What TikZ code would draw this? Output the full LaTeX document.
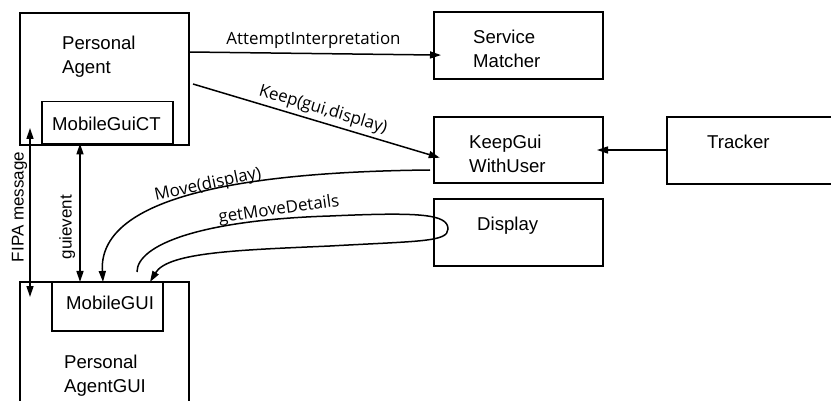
\documentclass[tikz,border=0pt]{standalone}
\usepackage{fontspec}
\setmainfont{Liberation Sans}
\newfontfamily\lblfont{Open Sans}
\usetikzlibrary{arrows.meta,calc}
\tikzset{
  box/.style={draw, line width=1.5pt, inner sep=0pt, outer sep=0pt, anchor=north west},
  thickbox/.style={box, line width=2.2pt},
  btxt/.style={inner sep=0pt, anchor=north west, align=left, font=\fontsize{18.6}{23.5}\selectfont},
  lbl/.style={inner sep=0pt, font=\lblfont\fontsize{16.9}{20}\selectfont},
  vlbl/.style={inner sep=0pt, anchor=base, rotate=90, font=\fontsize{17}{20}\selectfont},
  conn/.style={line width=1.5pt, -{Triangle[length=11pt,width=7pt]}},
  dconn/.style={line width=1.5pt, {Triangle[length=11pt,width=7pt]}-{Triangle[length=11pt,width=7pt]}}
}
\begin{document}
\begin{tikzpicture}[x=1pt,y=-1pt]
\useasboundingbox[fill=white] (0,0) rectangle (831,401);
% boxes
\node[thickbox, minimum width=169pt, minimum height=132pt] (pa) at (20,13) {};
\node[box, minimum width=131pt, minimum height=42pt] (ct) at (42,101.5) {};
\node[box, minimum width=169pt, minimum height=67pt] (sm) at (434,12) {};
\node[box, minimum width=169pt, minimum height=66pt] (kg) at (434,117) {};
\node[box, minimum width=180pt, minimum height=67pt] (tr) at (667,117) {};
\node[box, minimum width=169pt, minimum height=67pt] (dp) at (434,199) {};
\node[thickbox, minimum width=169pt, minimum height=130pt] (pg) at (20,282) {};
\node[box, fill=white, minimum width=111pt, minimum height=49pt] (mg) at (52,282) {};
% box texts
\node[btxt] (patxt) at (62,36) {Personal\\Agent};
\node[btxt] (cttxt) at (52,117) {MobileGuiCT};
\node[btxt] (smtxt) at (473,30) {Service\\Matcher};
\node[btxt] (kgtxt) at (469,135) {KeepGui\\WithUser};
\node[btxt] (trtxt) at (707,135) {Tracker};
\node[btxt] (dptxt) at (477,217) {Display};
\node[btxt] (mgtxt) at (66,296) {MobileGUI};
\node[btxt] (pgtxt) at (64,355) {Personal\\AgentGUI};
% connectors
\draw[conn, shorten >=-7pt] ($(pa.north east)+(0,39)$) -- ($(sm.north west)+(0,43)$);
\node[lbl, anchor=base] (lattempt) at (313.5,45) {AttemptInterpretation};
\draw[conn, shorten >=-6pt] ($(pa.north east)+(4,71)$) -- ($(kg.north west)+(0,39)$);
\node[lbl, rotate=-16.6] (lkeep) at (323,110) {Keep(gui,display)};
\draw[conn, shorten >=-6pt] ($(tr.north west)+(0,33)$) -- ($(kg.north east)+(0,33)$);
\draw[conn] ($(kg.north west)+(-4,53)$) .. controls (230,172) and (98,200) .. ($(mg.north west)+(51,0)$);
\node[lbl, rotate=12] (lmove) at (208,185) {Move(display)};
\coordinate (gstart) at ($(mg.north west)+(85,-10)$);
\draw[conn] (gstart) .. controls (137,245) and (200,220) .. (330,216)
  .. controls (420,212) and (448,214) .. (448,229)
  .. controls (448,242) and (420,241) .. (330,246)
  .. controls (240,250) and (168,252) .. ($(mg.north west)+(98,0)$);
\node[lbl, rotate=8] (lget) at (279,210) {getMoveDetails};
\draw[dconn, shorten <=-17pt, shorten >=-15pt] ($(pa.south west)+(10,0)$) -- ($(pg.north west)+(10,0)$);
\node[vlbl] (lfipa) at (23.5,207) {FIPA message};
\draw[dconn] ($(ct.south west)+(38,0)$) -- ($(mg.north west)+(28,0)$);
\node[vlbl] (lgui) at (71.5,227) {guievent};
\end{tikzpicture}
\end{document}
